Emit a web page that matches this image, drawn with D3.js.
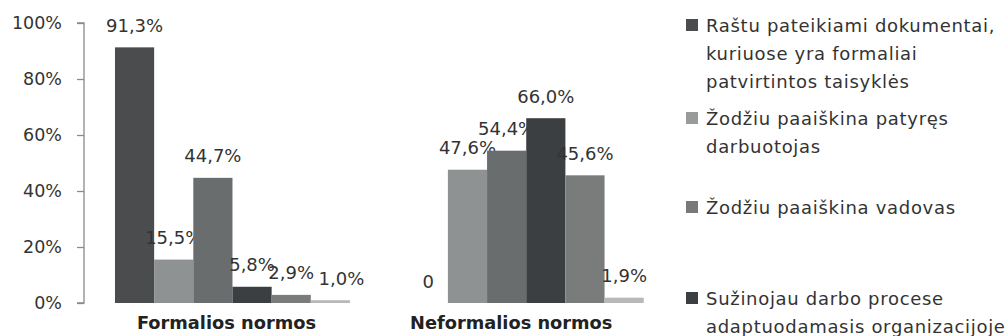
<!DOCTYPE html>
<html>
<head>
<meta charset="utf-8">
<script src="https://cdn.jsdelivr.net/npm/d3@7"></script>
<style>
  body { margin: 0; background: #fff; }
  svg { display: block; font-family: "DejaVu Sans", Verdana, sans-serif; }
</style>
</head>
<body>
<div id="chart"></div>
<script>
const categories = ["Formalios normos", "Neformalios normos"];
const seriesNames = [
  "Raštu pateikiami dokumentai, kuriuose yra formaliai patvirtintos taisyklės",
  "Žodžiu paaiškina patyręs darbuotojas",
  "Žodžiu paaiškina vadovas",
  "Sužinojau darbo procese adaptuodamasis organizacijoje",
  "Series 5",
  "Series 6"
];
// one array per series: [Formalios, Neformalios]
const s1 = [91.3, 0];
const s2 = [15.5, 47.6];
const s3 = [44.7, 54.4];
const s4 = [5.8, 66.0];
const s5 = [2.9, 45.6];
const s6 = [1.0, 1.9];
const series = [s1, s2, s3, s4, s5, s6];
const yTicks = [0, 20, 40, 60, 80, 100];

// legend text lines (only the visible entries)
const legendLines = [
  ["Raštu pateikiami dokumentai,", "kuriuose yra formaliai", "patvirtintos taisyklės"],
  ["Žodžiu paaiškina patyręs", "darbuotojas"],
  ["Žodžiu paaiškina vadovas"],
  ["Sužinojau darbo procese", "adaptuodamasis organizacijoje"]
];

const colors = ["#4b4c4e", "#8f9292", "#6a6d6d", "#3c3f41", "#7a7c7c", "#b8b8b8"];
const legendColors = ["#4b4c4e", "#999b9b", "#777979", "#3c3f41"];

const width = 1007, height = 336;
const svg = d3.select("#chart").append("svg")
  .attr("width", width)
  .attr("height", height);

const y = d3.scaleLinear().domain([0, 100]).range([303, 23]);
const x0 = d3.scaleBand().domain(categories).range([85.6, 673.1])
  .paddingInner(0.2).paddingOuter(0.1);
const x1 = d3.scaleBand().domain(d3.range(series.length)).range([0, x0.bandwidth()]);

// y axis
const yAxis = svg.append("g")
  .attr("transform", "translate(84,0)")
  .call(d3.axisLeft(y).tickValues(yTicks).tickSize(7).tickPadding(15)
    .tickFormat(d => d + "%"));
yAxis.selectAll("path, line").attr("stroke", "#8a8a8a").attr("stroke-width", 1.3);
yAxis.select(".domain").attr("d", `M-7,${y(100)}H0V${y(0)}H-7`);
yAxis.selectAll("text").attr("font-size", 17.5).attr("fill", "#333")
  .attr("font-family", "DejaVu Sans, sans-serif");

// bars
const groups = svg.selectAll("g.cat")
  .data(categories)
  .enter().append("g")
  .attr("class", "cat")
  .attr("transform", d => `translate(${x0(d)},0)`);

const nudge = { "0-5": 11 };

groups.each(function (cat, ci) {
  const g = d3.select(this);
  series.forEach((vals, si) => {
    const v = vals[ci];
    g.append("rect")
      .attr("x", x1(si))
      .attr("y", y(v))
      .attr("width", x1.bandwidth())
      .attr("height", y(0) - y(v))
      .attr("fill", colors[si]);
    g.append("text")
      .attr("x", x1(si) + x1.bandwidth() / 2 + (nudge[ci + "-" + si] || 0))
      .attr("y", y(v) - 15.5)
      .attr("text-anchor", "middle")
      .attr("font-size", 18)
      .attr("fill", "#333")
      .text(v === 0 ? "0" : d3.format(".1f")(v).replace(".", ",") + "%");
  });
});

// category labels
const catShift = [-6, -15];
svg.selectAll("text.catlabel")
  .data(categories)
  .enter().append("text")
  .attr("class", "catlabel")
  .attr("x", (d, i) => x0(d) + x0.bandwidth() / 2 + catShift[i])
  .attr("y", 328.5)
  .attr("text-anchor", "middle")
  .attr("font-size", 17.8)
  .attr("font-weight", "bold")
  .attr("fill", "#222")
  .text(d => d);

// legend
const legendY = [25, 118, 207, 298];
const legend = svg.append("g").attr("font-family", "DejaVu Sans, sans-serif");
legendLines.forEach((lines, i) => {
  legend.append("rect")
    .attr("x", 686).attr("y", legendY[i] - 6)
    .attr("width", 12).attr("height", 12)
    .attr("fill", legendColors[i]);
  lines.forEach((line, j) => {
    legend.append("text")
      .attr("x", 706)
      .attr("y", legendY[i] + j * 28 + 6.5)
      .attr("font-size", 18)
      .attr("letter-spacing", 0.7)
      .attr("fill", "#333")
      .text(line);
  });
});
</script>
</body>
</html>
